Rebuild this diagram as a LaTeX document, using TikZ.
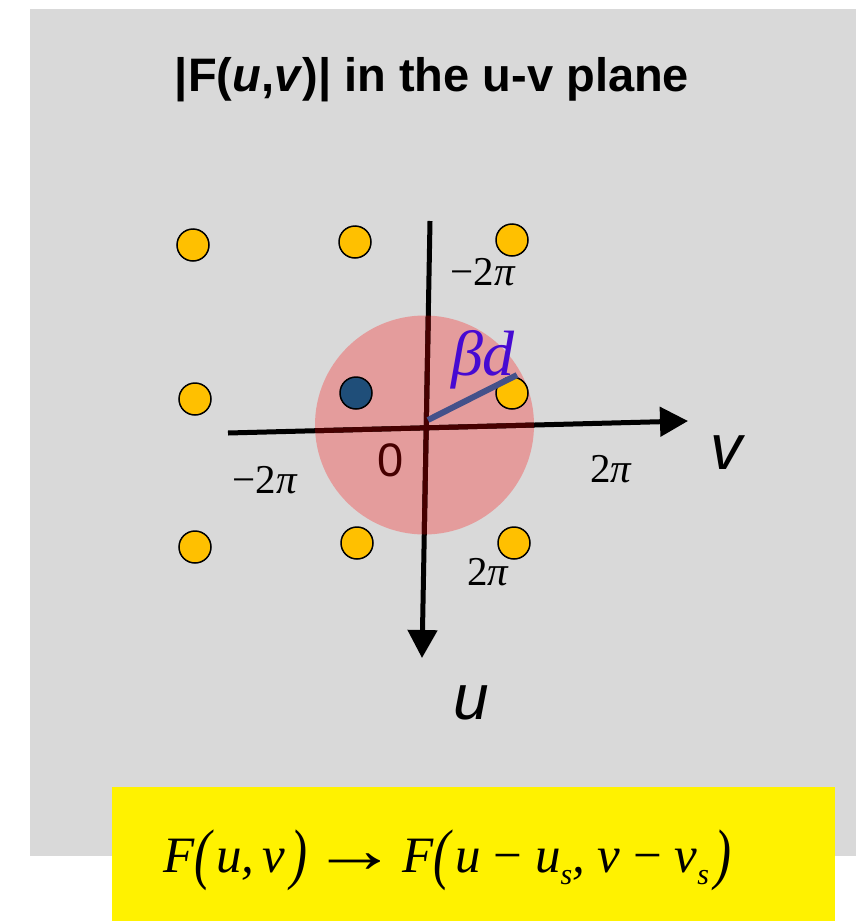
\documentclass[tikz,border=0pt]{standalone}
\usepackage{fontspec}
\setmainfont{Liberation Serif}
\setsansfont{Liberation Sans}
\usepackage{graphicx}
\usetikzlibrary{arrows.meta}
\definecolor{bggray}{RGB}{217,217,217}
\definecolor{dotorange}{RGB}{255,192,0}
\definecolor{dotblue}{RGB}{31,78,121}
\definecolor{discpink}{RGB}{228,156,156}
\definecolor{axisred}{RGB}{70,0,0}
\definecolor{betablue}{RGB}{70,10,210}
\definecolor{radiusblue}{RGB}{68,81,138}
\newcommand{\lparen}{\raisebox{-4pt}{\scalebox{1}[1.32]{(}}\hspace{5pt}}
\newcommand{\rparen}{\hspace{5pt}\raisebox{-4pt}{\scalebox{1}[1.32]{)}}}
\newcommand{\subs}[1]{\raisebox{-12pt}{\fontsize{30}{30}\selectfont #1}}
\newcommand{\toarrow}{\hspace{4pt}\textup{\scalebox{1.7}[1.3]{→}}\hspace{4pt}}
\begin{document}
\begin{tikzpicture}[x=1pt,y=-1pt,
    dot/.style={circle,draw,line width=1.5pt,fill=dotorange,minimum size=32pt,inner sep=0pt},
    axis/.style={line width=5pt,-{Triangle[length=28pt,width=29pt]}},
    ticklabel/.style={font=\fontsize{41}{41}\selectfont}]
    \useasboundingbox (0,0) rectangle (856,921);
    % Background panels
    \fill[bggray] (30,9) rectangle (856,856);
    \fill[yellow] (112,787) rectangle (835,921);
    % Title
    \node[anchor=base,font=\sffamily\bfseries\fontsize{47}{47}\selectfont] (title) at (432,91)
        {|F(\textit{u},\textit{v})| in the u-v plane};
    % Disc and axes
    \node[circle,fill=discpink,minimum size=219pt,inner sep=0pt] (disc) at (424.5,425) {};
    \coordinate (vL) at (228,433);
    \coordinate (vR) at (688,421);
    \coordinate (uT) at (430,221);
    \coordinate (uB) at (422,658);
    \draw[axis] (vL) -- (vR);
    \draw[axis] (uT) -- (uB);
    \begin{scope}
        \clip (424.5,425) circle (109.5pt);
        \draw[axisred,line width=5pt] (vL) -- (vR);
        \draw[axisred,line width=5pt] (uT) -- (uB);
    \end{scope}
    \node[font=\sffamily\fontsize{47}{47}\selectfont,text=axisred] (zero) at (390.5,460) {0};
    % Axis labels
    \node[font=\sffamily\itshape\fontsize{64}{64}\selectfont] (vlab) at (726,453) {v};
    \node[font=\sffamily\itshape\fontsize{64}{64}\selectfont] (ulab) at (471,703) {u};
    \node[ticklabel] (tT) at (483,272) {−2\textit{π}};
    \node[ticklabel] (tR) at (611,469) {2\textit{π}};
    \node[ticklabel] (tL) at (265,480) {−2\textit{π}};
    \node[ticklabel] (tB) at (488,572) {2\textit{π}};
    % Dots
    \foreach \x/\y [count=\i] in {193/245,355/242,512/240,195/399,512/393,195/547,357/543,514/543}
        \node[dot] (d\i) at (\x,\y) {};
    \node[dot,fill=dotblue] (db) at (356,393) {};
    % Radius
    \coordinate (rS) at (428,420);
    \coordinate (rE) at (517,375);
    \draw[radiusblue,line width=6pt] (rS) -- (rE);
    \node[font=\itshape\fontsize{64}{64}\selectfont,text=betablue] (beta) at (483,360) {βd};
    % Formula
    \node[anchor=base,font=\itshape\fontsize{51}{51}\selectfont] (formula) at (447,872)
        {F\lparen u,\,v\rparen\toarrow F\lparen u \textup{−} u\subs{s}, v \textup{−} v\subs{s}\rparen};
\end{tikzpicture}
\end{document}
